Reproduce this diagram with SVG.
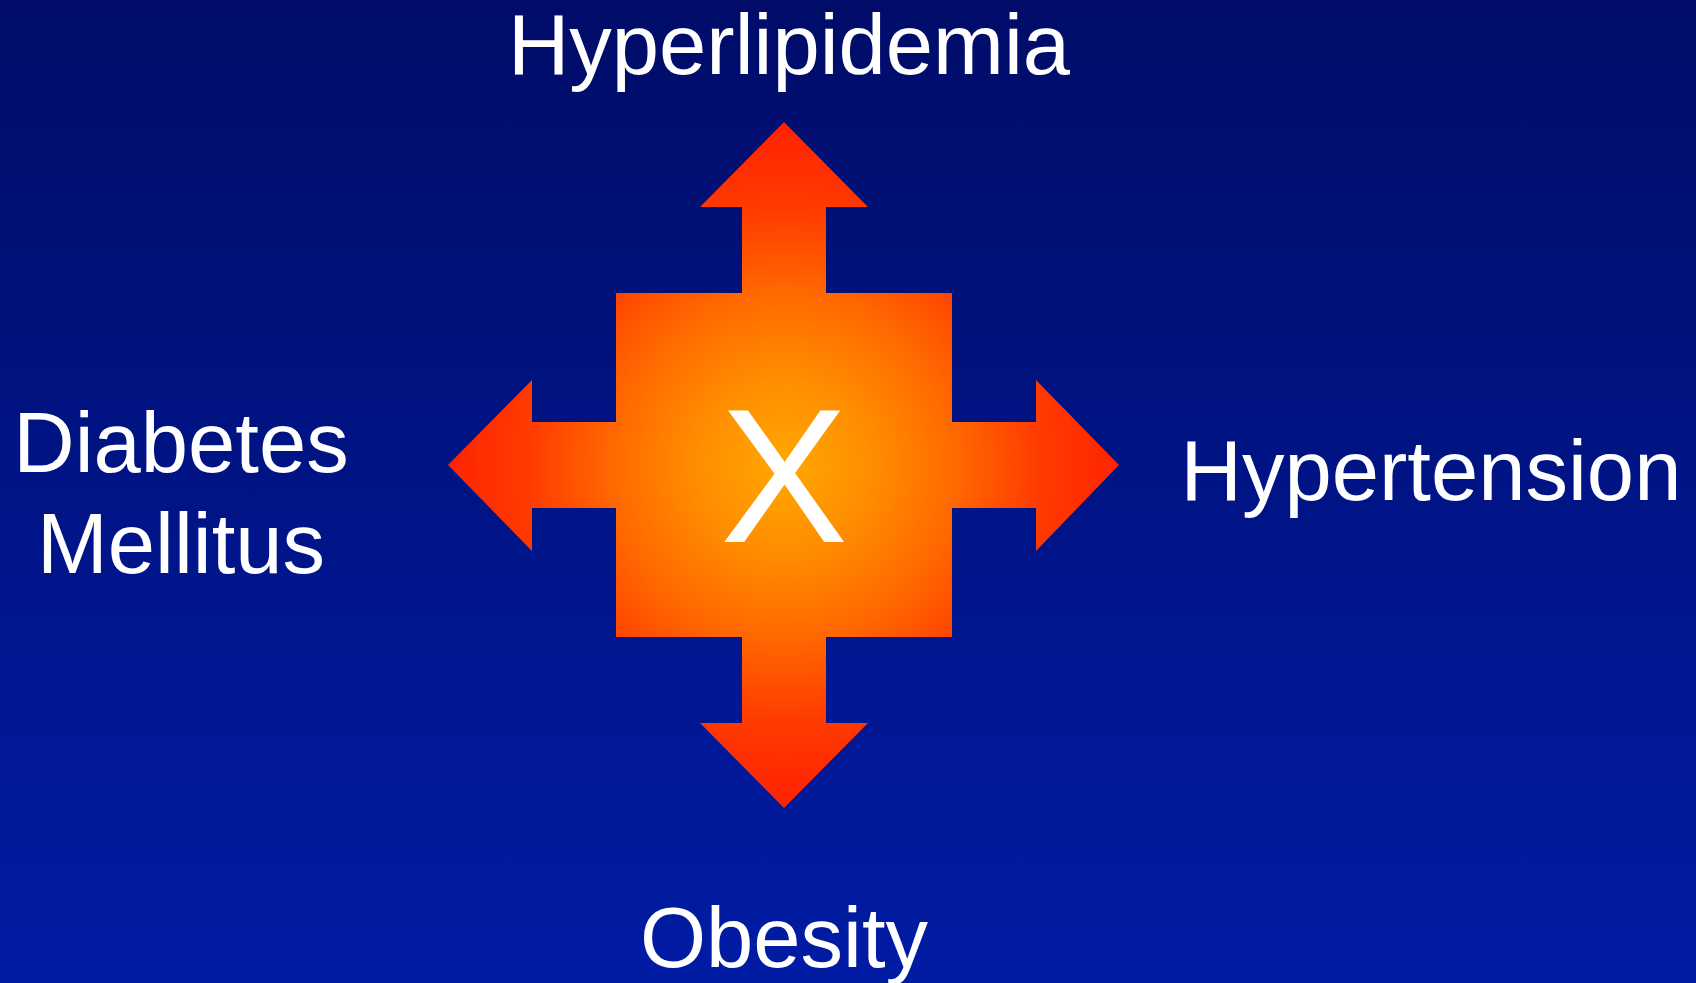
<svg xmlns="http://www.w3.org/2000/svg" width="1696" height="983" viewBox="0 0 1696 983">
<defs>
<linearGradient id="bg" x1="0" y1="0" x2="0" y2="1">
<stop offset="0" stop-color="#000C68"/>
<stop offset="1" stop-color="#001CA4"/>
</linearGradient>
<radialGradient id="glow" gradientUnits="userSpaceOnUse" cx="784" cy="465" r="340">
<stop offset="0" stop-color="#FFA800"/>
<stop offset="0.25" stop-color="#FF8E00"/>
<stop offset="0.5" stop-color="#FF6A00"/>
<stop offset="0.75" stop-color="#FF3C00"/>
<stop offset="1" stop-color="#FF2200"/>
</radialGradient>
<style>
.lbl{font-family:"Liberation Sans",Arial,sans-serif;font-size:85px;fill:#FFFFFF;text-anchor:middle}
.arrow{fill:url(#glow)}
</style>
</defs>
<rect x="0" y="0" width="1696" height="983" fill="url(#bg)"/>
<g id="connectors">
<polygon class="arrow" points="742,294 742,207 700,207 784,122 868,207 826,207 826,294"/>
<polygon class="arrow" points="742,636 742,723 700,723 784,808 868,723 826,723 826,636"/>
<polygon class="arrow" points="617,422 532,422 532,380 448,465 532,551 532,508 617,508"/>
<polygon class="arrow" points="951,422 1036,422 1036,380 1119,465 1036,551 1036,508 951,508"/>
</g>
<g id="node-x">
<rect class="arrow" x="616" y="293" width="336" height="344"/>
<text class="lbl" x="784" y="542" style="font-size:192px">X</text>
</g>
<g id="node-hyperlipidemia">
<text class="lbl" x="789" y="74">Hyperlipidemia</text>
</g>
<g id="node-diabetes">
<text class="lbl" x="181" y="472">Diabetes</text>
<text class="lbl" x="181" y="573">Mellitus</text>
</g>
<g id="node-hypertension">
<text class="lbl" x="1431" y="500">Hypertension</text>
</g>
<g id="node-obesity">
<text class="lbl" x="784" y="967">Obesity</text>
</g>
</svg>
